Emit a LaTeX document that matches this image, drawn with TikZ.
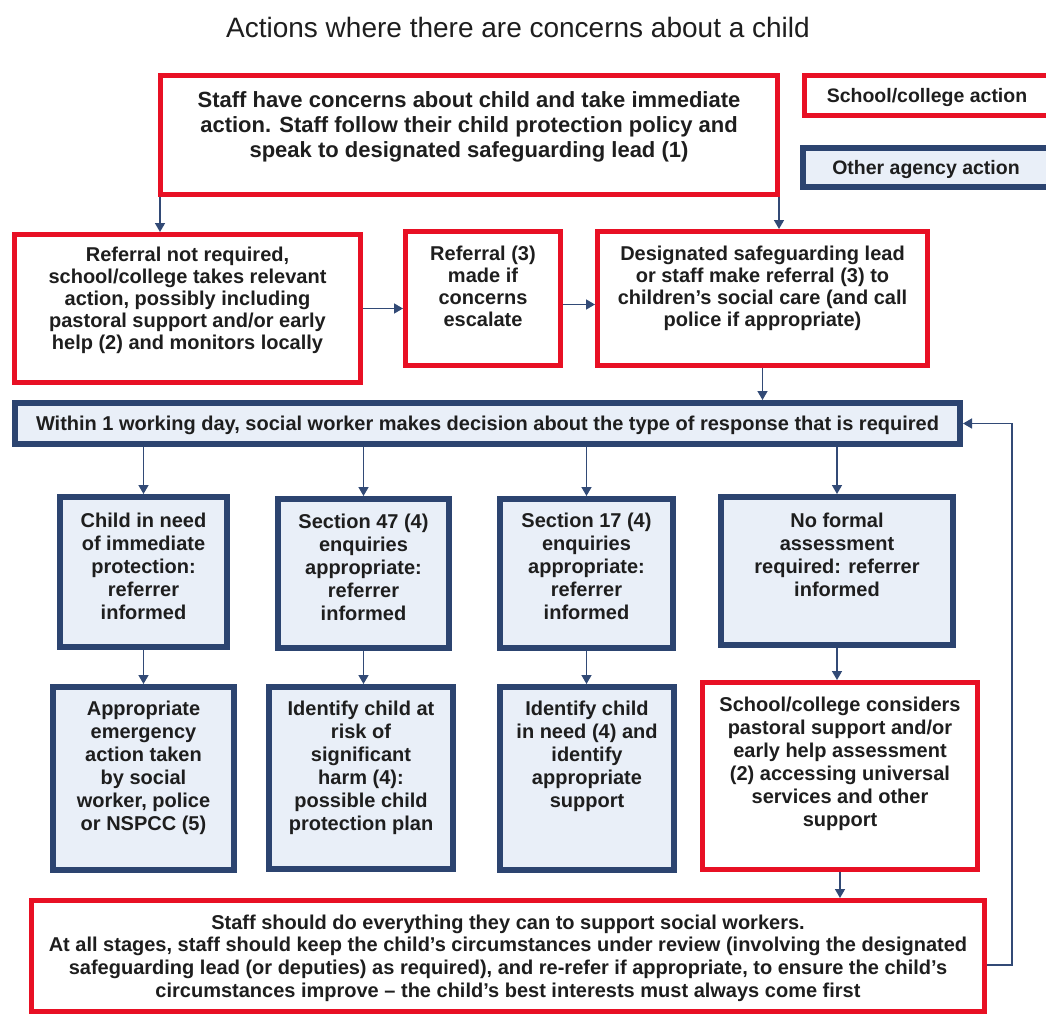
\documentclass[tikz,border=0pt]{standalone}
\usepackage{fontspec}
\setmainfont{Liberation Sans}
\usetikzlibrary{arrows.meta,calc}
\definecolor{redc}{RGB}{232,16,36}
\definecolor{bluec}{RGB}{44,68,112}
\definecolor{fillc}{RGB}{233,239,248}
\definecolor{arrc}{RGB}{50,74,118}
\definecolor{txtc}{RGB}{30,30,30}
\newcommand{\boxtext}[4]{\parbox[c][#2pt][t]{#1pt}{\centering\vspace*{#3pt}#4\par}}
\begin{document}
\begin{tikzpicture}[x=1pt,y=-1pt,
  base/.style={inner sep=0pt, anchor=north west, text=txtc, font=\bfseries\fontsize{20}{23}\selectfont},
  redbox/.style={base, draw=redc, line width=5pt, fill=white},
  bluebox/.style={base, draw=bluec, line width=6pt, fill=fillc},
  arr/.style={draw=arrc, line width=1.5pt, -{Triangle[width=10pt,length=9pt]}}]
\useasboundingbox[fill=white] (0,0) rectangle (1046,1014);

\node[font=\fontsize{28}{32}\selectfont, text=txtc] (title) at (518,27) {Actions where there are concerns about a child};

% top row
\node[redbox, font=\bfseries\fontsize{22}{25}\selectfont] (A) at (158,73)
  {\boxtext{617}{119}{16.5}{Staff have concerns about child and take immediate\\ action. Staff follow their child protection policy and\\ speak to designated safeguarding lead (1)}};
\node[redbox, minimum width=245pt, minimum height=40pt, text depth=0pt, font=\bfseries\fontsize{19.5}{22}\selectfont] (L1) at (802,73) {School/college action};
\node[bluebox, minimum width=246pt, minimum height=39pt, text depth=0pt, font=\bfseries\fontsize{19.5}{22}\selectfont] (L2) at (800,145) {Other agency action};

% second row
\node[redbox, font=\bfseries\fontsize{20}{22}\selectfont] (B) at (12,232)
  {\boxtext{346}{148}{13}{Referral not required,\\ school/college takes relevant\\ action, possibly including\\ pastoral support and/or early\\ help (2) and monitors locally}};
\node[redbox, font=\bfseries\fontsize{20}{22}\selectfont] (C) at (403,229)
  {\boxtext{155}{134}{14.5}{Referral (3)\\ made if\\ concerns\\ escalate}};
\node[redbox, font=\bfseries\fontsize{20}{22}\selectfont] (D) at (595,229)
  {\boxtext{330}{134}{14.5}{Designated safeguarding lead\\ or staff make referral (3) to\\ children’s social care (and call\\ police if appropriate)}};

% decision
\node[bluebox, minimum width=945pt, minimum height=41pt, text depth=1pt] (E) at (12,400)
  {Within 1 working day, social worker makes decision about the type of response that is required};

% third row
\node[bluebox] (G1) at (57,494)
  {\boxtext{167}{150}{16}{Child in need\\ of immediate\\ protection:\\ referrer\\ informed}};
\node[bluebox] (G2) at (275,496)
  {\boxtext{171}{149}{15}{Section 47 (4)\\ enquiries\\ appropriate:\\ referrer\\ informed}};
\node[bluebox] (G3) at (497,496)
  {\boxtext{173}{149}{14.5}{Section 17 (4)\\ enquiries\\ appropriate:\\ referrer\\ informed}};
\node[bluebox] (G4) at (718,494)
  {\boxtext{232}{148}{16}{No formal\\ assessment\\ required: referrer\\ informed}};

% fourth row
\node[bluebox] (H1) at (50,684)
  {\boxtext{181}{183}{13.5}{Appropriate\\ emergency\\ action taken\\ by social\\ worker, police\\ or NSPCC (5)}};
\node[bluebox] (H2) at (266,684)
  {\boxtext{184}{182}{13.5}{Identify child at\\ risk of\\ significant\\ harm (4):\\ possible child\\ protection plan}};
\node[bluebox] (H3) at (497,684)
  {\boxtext{174}{183}{13.5}{Identify child\\ in need (4) and\\ identify\\ appropriate\\ support}};
\node[redbox] (H4) at (700,680)
  {\boxtext{275}{187}{14}{School/college considers\\ pastoral support and/or\\ early help assessment\\ (2) accessing universal\\ services and other\\ support}};

% bottom
\node[redbox, font=\bfseries\fontsize{20}{22.7}\selectfont] (F) at (29,898)
  {\boxtext{953}{111}{14}{Staff should do everything they can to support social workers.\\ At all stages, staff should keep the child’s circumstances under review (involving the designated\\ safeguarding lead (or deputies) as required), and re-refer if appropriate, to ensure the child’s\\ circumstances improve – the child’s best interests must always come first}};

% connectors
\draw[arr] ([xshift=2pt]A.south west) -- ([xshift=2pt]A.south west |- B.north);
\draw[arr] ([xshift=-1pt]A.south east) -- ([xshift=-1pt]A.south east |- D.north);
\draw[arr] (B.east) -- (B.east -| C.west);
\draw[arr] ([yshift=-6pt]C.east) -- ([yshift=-6pt]C.east -| D.west);
\draw[arr] (D.south) -- (D.south |- E.north);
\foreach \g in {G1,G2,G3,G4} {
  \draw[arr] (E.south -| \g.north) -- (\g.north);
}
\draw[arr] (G1.south) -- (G1.south |- H1.north);
\draw[arr] (G2.south) -- (G2.south |- H2.north);
\draw[arr] (G3.south) -- (G3.south |- H3.north);
\draw[arr] (G4.south) -- (G4.south |- H4.north);
\draw[arr] (H4.south) -- (H4.south |- F.north);
\coordinate (fb1) at (1012,965);
\coordinate (fb2) at (1012,423.5);
\draw[arr] (F.east |- fb1) -- (fb1) -- (fb2) -- (E.east);
\end{tikzpicture}
\end{document}
